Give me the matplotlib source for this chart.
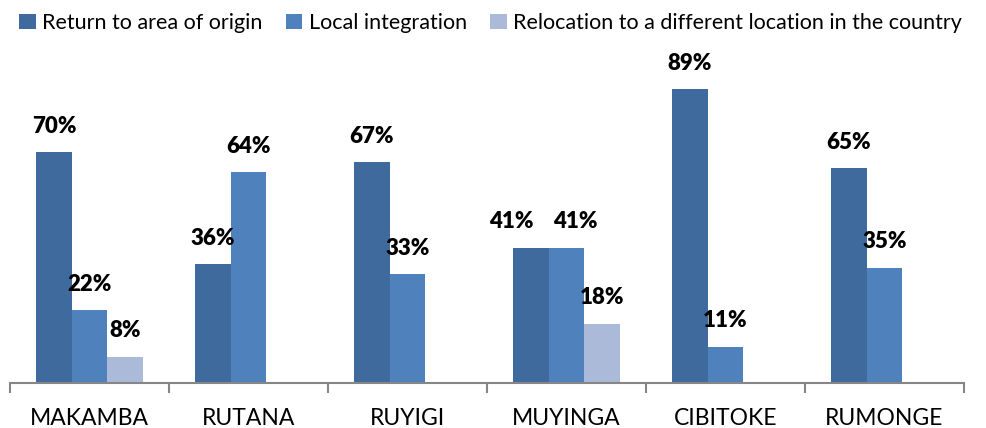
import numpy as np
import matplotlib.pyplot as plt

provinces = ['MAKAMBA', 'RUTANA', 'RUYIGI', 'MUYINGA', 'CIBITOKE', 'RUMONGE']
series_names = ['Return to area of origin', 'Local integration',
                'Relocation to a different location in the country']
return_origin = [70, 36, 67, 41, 89, 65]
local_integration = [22, 64, 33, 41, 11, 35]
relocation = [8, 0, 0, 18, 0, 0]

colors = ['#3F6A9E', '#4F81BD', '#AABAD8']

plt.rcParams['font.family'] = ['Lato', 'DejaVu Sans']

fig = plt.figure(figsize=(9.87, 4.28), dpi=100)
ax = fig.add_axes([10 / 987, 45 / 428, 954 / 987, 330 / 428])

x = np.arange(len(provinces))
w = 0.224
all_series = [return_origin, local_integration, relocation]
for i, (vals, name, c) in enumerate(zip(all_series, series_names, colors)):
    pos = x + (i - 1) * w
    ax.bar(pos, vals, width=w, color=c, label=name)
    for j, (p, v) in enumerate(zip(pos, vals)):
        if v <= 0:
            continue
        # push apart labels of neighbouring bars with equal height
        dx = 0
        if i == 0 and v == all_series[1][j]:
            dx = -14
        elif i == 1 and v == all_series[0][j]:
            dx = 6
        ax.annotate(f'{v}%', (p, v), xytext=(dx, 11), textcoords='offset points',
                    ha='center', va='bottom', fontsize=16, fontweight='heavy')

ax.set_xlim(-0.5, len(provinces) - 0.5)
ax.set_ylim(0, 100)
ax.set_yticks([])
ax.set_xticks(x)
ax.set_xticklabels(provinces, fontsize=16.5)
ax.tick_params(axis='x', length=0, pad=18)
ax.set_xticks(np.arange(len(provinces) + 1) - 0.5, minor=True)
ax.tick_params(axis='x', which='minor', length=7, color='#868686', width=1.5)
for s in ['top', 'right', 'left']:
    ax.spines[s].set_visible(False)
ax.spines['bottom'].set_color('#868686')
ax.spines['bottom'].set_linewidth(1.5)

fig.legend(loc='upper left', bbox_to_anchor=(0.0, 1.015), ncol=3, frameon=False,
           fontsize=15.5, handlelength=0.75, handleheight=0.75, handletextpad=0.3,
           columnspacing=1.1)

fig.savefig('out.png', dpi=100)
